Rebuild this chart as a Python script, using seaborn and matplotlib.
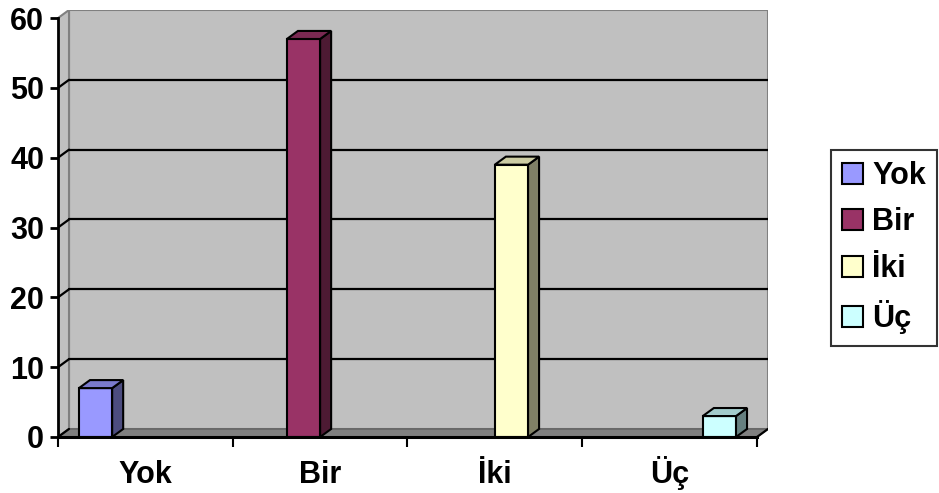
import numpy as np
import pandas as pd
import matplotlib
matplotlib.use("Agg")
import matplotlib.pyplot as plt
import matplotlib.colors as mcolors
from matplotlib.patches import Polygon, Rectangle, Patch
import seaborn as sns

# data
categories = ["Yok", "Bir", "İki", "Üç"]
values = [7, 57, 39, 3]
bar_colors = ["#9999FF", "#993366", "#FFFFCC", "#CCFFFF"]
y_ticks = [0, 10, 20, 30, 40, 50, 60]

df = pd.DataFrame({"cat": categories, "val": values})
palette = dict(zip(categories, bar_colors))

sns.set_style("white")
plt.rcParams["font.family"] = ["Liberation Sans", "DejaVu Sans"]
plt.rcParams["font.weight"] = "bold"
plt.rcParams["text.color"] = "black"
plt.rcParams["xtick.color"] = "black"
plt.rcParams["ytick.color"] = "black"

fig = plt.figure(figsize=(9.39, 4.93), dpi=100)
ax = fig.add_axes([58 / 939, 1 - 437 / 493, (768 - 58) / 939, (437 - 10) / 493])

# depth of the fake 3D box (data units)
dx, dy = 0.063, 1.15
xmin, xmax = -0.5, 3.5
ymax = y_ticks[-1]

sns.barplot(data=df, x="cat", y="val", hue="cat", palette=palette, dodge=True,
            width=0.76, edgecolor="black", linewidth=1.5, legend=False,
            saturation=1, ax=ax, zorder=3)

# walls and floor
wall = "#C0C0C0"
ax.add_patch(Rectangle((xmin + dx, dy), xmax - xmin, ymax, facecolor=wall,
                       edgecolor="#808080", linewidth=1.5, zorder=0))
ax.add_patch(Polygon([(xmin, 0), (xmin + dx, dy), (xmin + dx, ymax + dy), (xmin, ymax)],
                     closed=True, facecolor=wall, edgecolor="#808080", linewidth=1.5, zorder=0))
ax.add_patch(Polygon([(xmin, 0), (xmax, 0), (xmax + dx, dy), (xmin + dx, dy)],
                     closed=True, facecolor="#808080", edgecolor="#606060", linewidth=1, zorder=1))

# gridlines on back wall and left wall
for v in y_ticks[1:-1]:
    ax.plot([xmin + dx, xmax + dx], [v + dy, v + dy], color="black", lw=1.6, zorder=0.5)
    ax.plot([xmin, xmin + dx], [v, v + dy], color="black", lw=1.6, zorder=0.5)
ax.plot([xmin, xmin + dx], [0, dy], color="black", lw=1.6, zorder=1.5)
ax.plot([xmax, xmax + dx], [0, dy], color="black", lw=1.6, zorder=1.5)

# side and top faces of the bars
for p in list(ax.patches):
    if not isinstance(p, Rectangle) or p.get_zorder() != 3:
        continue
    h = p.get_height()
    if not np.isfinite(h) or h <= 0:
        continue
    x0 = p.get_x()
    x1 = x0 + p.get_width()
    rgb = np.array(mcolors.to_rgb(p.get_facecolor()))
    ax.add_patch(Polygon([(x1, 0), (x1 + dx, dy), (x1 + dx, h + dy), (x1, h)], closed=True,
                         facecolor=rgb * 0.5, edgecolor="black", linewidth=1.5, zorder=3))
    ax.add_patch(Polygon([(x0, h), (x0 + dx, h + dy), (x1 + dx, h + dy), (x1, h)], closed=True,
                         facecolor=rgb * 0.8, edgecolor="black", linewidth=1.5, zorder=3))

ax.set_xlim(xmin, xmax + dx)
ax.set_ylim(0, ymax + dy)
ax.set_facecolor("none")

for s in ["top", "right"]:
    ax.spines[s].set_visible(False)
ax.spines["left"].set_bounds(0, ymax)
ax.spines["bottom"].set_bounds(xmin, xmax)
for s in ["left", "bottom"]:
    ax.spines[s].set_color("black")
    ax.spines[s].set_zorder(4)
ax.spines["left"].set_linewidth(2)
ax.spines["bottom"].set_linewidth(2.2)

ax.set_yticks(y_ticks)
ax.tick_params(axis="y", direction="out", length=6, width=2, pad=4, labelsize=22, left=True,
               colors="black")
ax.set_xticks(range(len(categories)))
ax.set_xticklabels(categories)
ax.set_xticks(np.arange(xmin, xmax + 0.01, 1), minor=True)
ax.tick_params(axis="x", which="major", length=0, pad=33, labelsize=22, colors="black")
ax.tick_params(axis="x", which="minor", direction="out", length=7.5, width=1.5, bottom=True,
               colors="black")
for lbl in ax.get_xticklabels():
    lbl.set_fontweight("bold")
    lbl.set_verticalalignment("baseline")
for lbl in ax.get_yticklabels():
    lbl.set_fontweight("bold")
ax.set_xlabel("")
ax.set_ylabel("")

handles = [Patch(facecolor=c, edgecolor="black", linewidth=1.5) for c in bar_colors]
leg = fig.legend(handles, categories, loc="upper left", bbox_to_anchor=(831 / 939, 1 - 150 / 493),
                 prop={"weight": "bold", "size": 22}, frameon=True, fancybox=False,
                 handlelength=0.69, handleheight=0.69, handletextpad=0.3,
                 labelspacing=0.54, borderpad=0.36, borderaxespad=0, labelcolor="black")
leg.get_frame().set_edgecolor("black")
leg.get_frame().set_linewidth(1.5)

fig.savefig("out.png", dpi=100)
